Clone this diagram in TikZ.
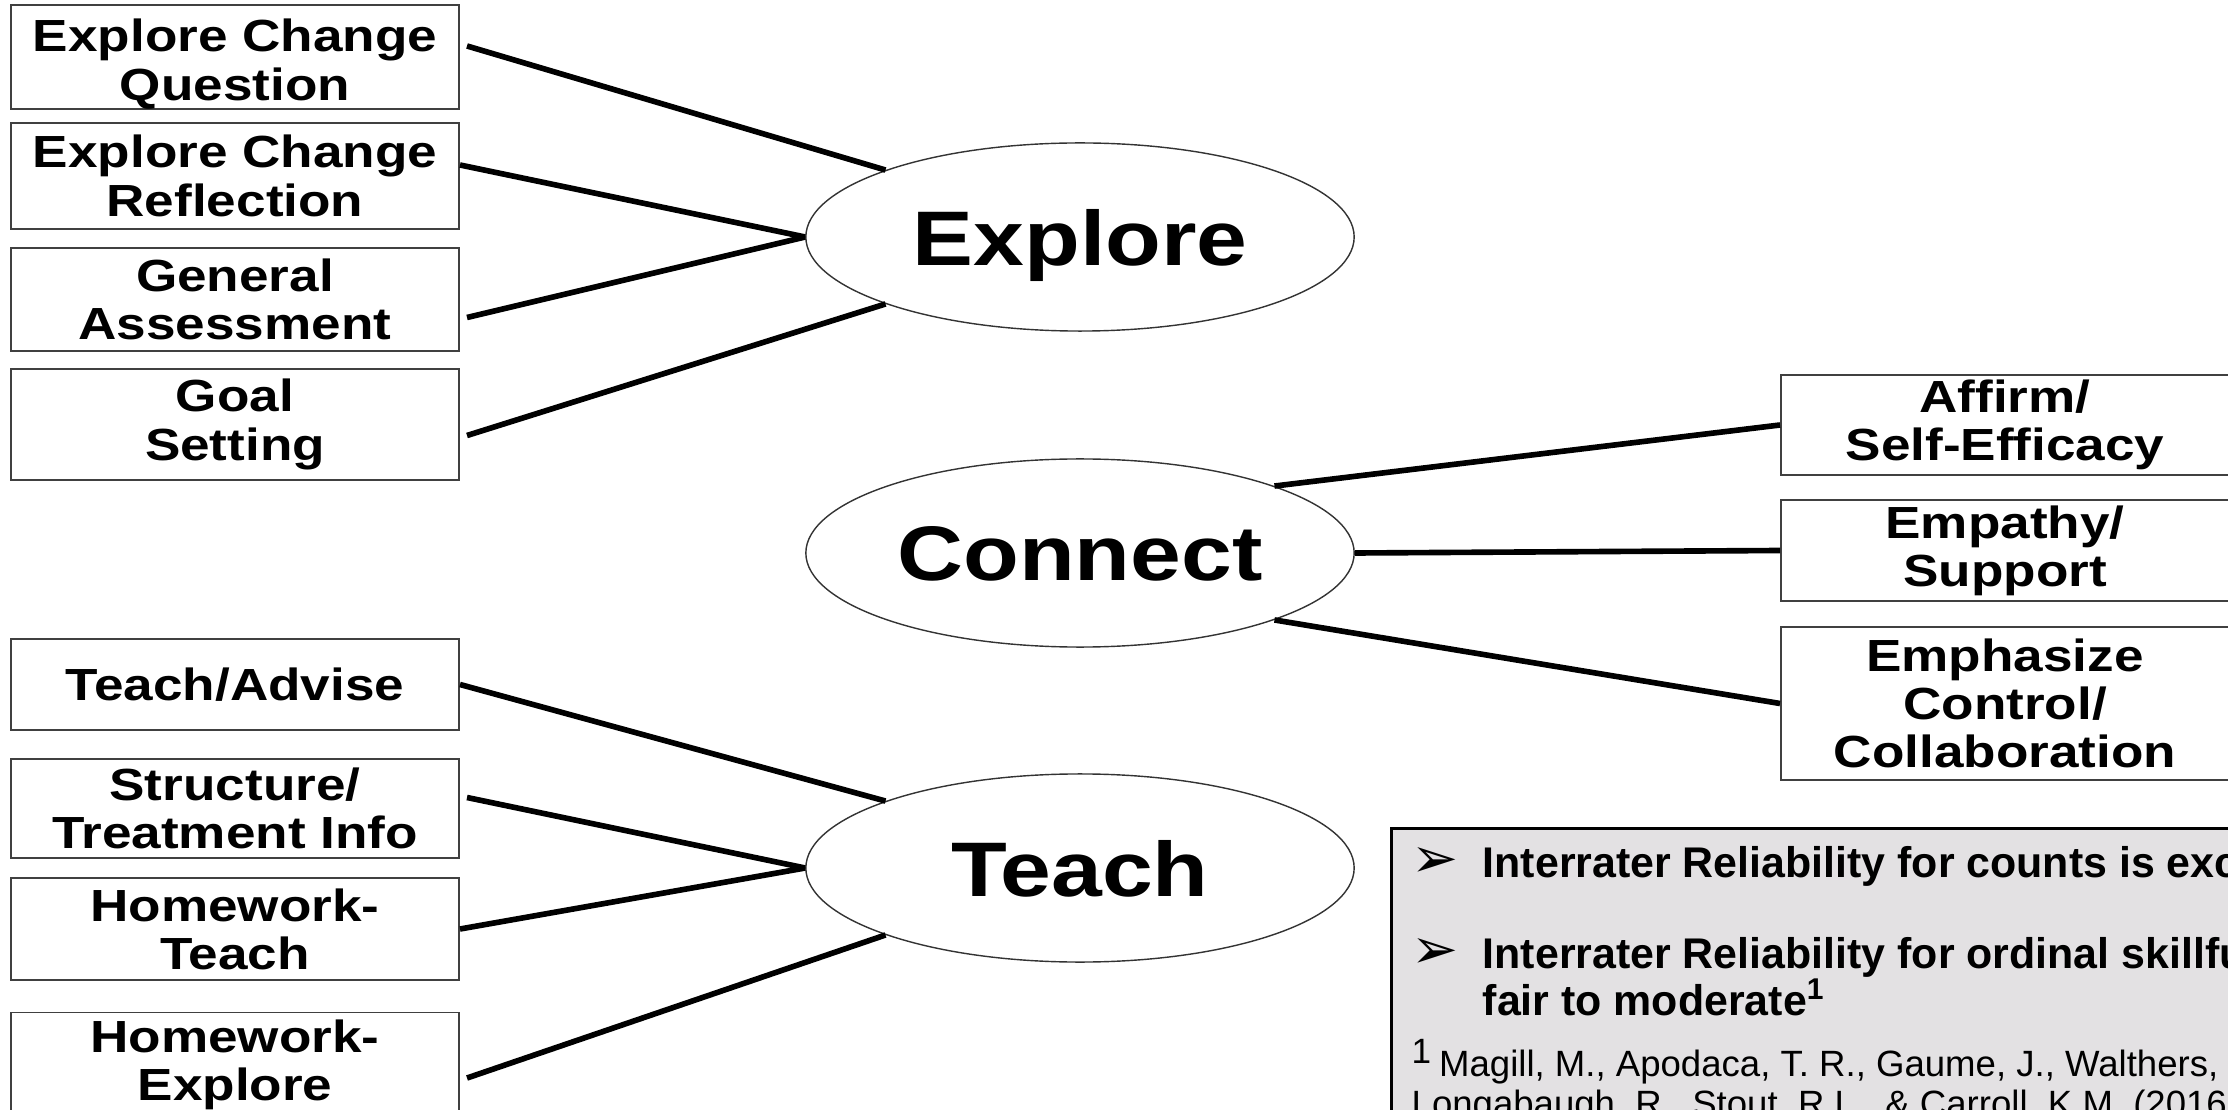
\documentclass[tikz,border=0pt]{standalone}
\usepackage{fontspec}
\setmainfont{Liberation Sans}
\newfontfamily\widefont[FakeStretch=1.18]{Liberation Sans}
\newfontfamily\symfont{DejaVu Sans}
\usepackage{tikz}
\usetikzlibrary{shapes.geometric,positioning}

\definecolor{notegray}{RGB}{227,225,227}

\begin{document}
\begin{tikzpicture}[
    x=0.01cm, y=-0.01cm,
    item/.style={rectangle, draw=black!75, line width=0.5pt, minimum width=4.48cm, minimum height=1cm, inner sep=0pt, align=center, font=\widefont\bfseries\fontsize{12.8}{13.7}\selectfont},
    hub/.style={ellipse, draw=black!80, line width=0.4pt, minimum width=5.48cm, minimum height=1.88cm, inner sep=0pt, text depth=0pt, font=\widefont\bfseries\fontsize{22}{26}\selectfont},
    link/.style={line width=1.6pt, black},
    notebox/.style={rectangle, draw=black, line width=0.8pt, fill=notegray, anchor=north west, minimum width=9cm, minimum height=3.2cm},
    point/.style={anchor=base west, inner sep=0pt, font=\bfseries\fontsize{12.2}{14}\selectfont},
    bulletmark/.style={anchor=base west, inner sep=0pt, font=\symfont\fontsize{16}{18}\selectfont},
    cite/.style={anchor=base west, inner sep=0pt, font=\fontsize{10.4}{13}\selectfont}
]
\useasboundingbox (0,0) rectangle (2228,1110);
\clip (0,0) rectangle (2228,1110);

% Skill groups
\node[hub] (explore) at (1080,237) {Explore};
\node[hub] (connect) at (1080,553) {Connect};
\node[hub] (teach) at (1080,868) {Teach};

% Explore skills
\node[item] (ecq) at (235,57) {\rule{0pt}{0.47cm}Explore Change\\Question};
\node[item, minimum height=1.06cm] (ecr) at (235,176) {Explore Change\\Reflection};
\node[item, minimum height=1.03cm] (ga) at (235,299.5) {General\\Assessment};
\node[item, minimum height=1.11cm] (gs) at (235,424.5) {Goal\\Setting};

% Connect skills
\node[item] (aff) at (2005,425) {Affirm/\\Self-Efficacy};
\node[item, minimum height=1.01cm] (emp) at (2005,550.5) {Empathy/\\Support};
\node[item, minimum height=1.53cm] (emc) at (2005,703.5) {Emphasize\\Control/\\Collaboration};

% Teach skills
\node[item, minimum height=0.91cm] (ta) at (235,684.5) {Teach/Advise};
\node[item, minimum height=0.99cm] (st) at (235,808.5) {Structure/\\Treatment Info};
\node[item, minimum height=1.02cm] (ht) at (235,929) {Homework-\\Teach};
\node[item, minimum height=1.05cm] (he) at (235,1065) {Homework-\\Explore};

% Links
\draw[link] ([xshift=0.07cm, yshift=0.11cm]ecq.east) -- (explore.161);
\draw[link] ([yshift=0.11cm]ecr.east) -- (explore.west);
\draw[link] ([xshift=0.07cm, yshift=-0.18cm]ga.east) -- (explore.west);
\draw[link] ([xshift=0.07cm, yshift=-0.11cm]gs.east) -- (explore.199);

\draw[link] (connect.19) -- (aff.west);
\draw[link] (connect.east) -- (emp.west);
\draw[link] (connect.341) -- (emc.west);

\draw[link] (ta.east) -- (teach.161);
\draw[link] ([xshift=0.07cm, yshift=0.11cm]st.east) -- (teach.west);
\draw[link] (ht.east) -- (teach.west);
\draw[link] ([xshift=0.07cm, yshift=-0.13cm]he.east) -- (teach.199);

% Reliability note
\node[notebox] (note) at (1390,827) {};
\node[bulletmark] (mark1) at (1411,877) {➢};
\node[point] (rel1) at (1482,877) {Interrater Reliability for counts is exc};
\node[bulletmark] (mark2) at (1411,968) {➢};
\node[point] (rel2) at (1482,968) {Interrater Reliability for ordinal skillfu};
\node[point] (rel3) at (1482,1015) {fair to moderate\textsuperscript{1}};
\node[cite] (ref1) at (1411,1076) {\textsuperscript{\fontsize{10}{12}\selectfont 1}\,Magill, M., Apodaca, T. R., Gaume, J., Walthers,};
\node[cite] (ref2) at (1411,1116) {Longabaugh, R., Stout, R.L., \& Carroll, K.M. (2016};

\end{tikzpicture}
\end{document}
